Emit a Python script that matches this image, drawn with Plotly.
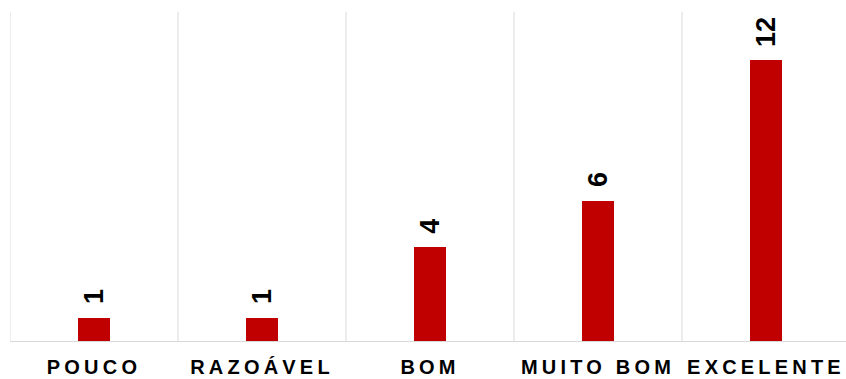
import plotly.graph_objects as go

categories = ["POUCO", "RAZOÁVEL", "BOM", "MUITO BOM", "EXCELENTE"]
values = [1, 1, 4, 6, 12]

BAR_COLOR = "#C00000"
GRID_COLOR = "#D9D9D9"
FONT = "Liberation Sans, Arial, sans-serif"

fig = go.Figure()
fig.add_trace(go.Bar(
    x=categories, y=values,
    width=0.185,
    marker=dict(color=BAR_COLOR, line=dict(width=0)),
    hoverinfo="skip",
))

# data labels (rotated)
for c, v in zip(categories, values):
    fig.add_annotation(
        x=c, y=v, xref="x", yref="y",
        text=f"<b>{v}</b>", textangle=-90,
        showarrow=False, yanchor="bottom", xanchor="center",
        yshift=11,
        font=dict(family=FONT, size=27, color="#000000"),
    )

# vertical category separators
for i in range(len(categories)):
    fig.add_shape(
        type="line", xref="x", yref="paper",
        x0=i - 0.5, x1=i - 0.5, y0=0, y1=1,
        line=dict(color=GRID_COLOR, width=1), layer="below",
    )

W, H = 846, 379
ML, MR, MT, MB = 10, 0, 12, 38
cat_px = 168
plot_w = W - ML - MR

fig.update_layout(
    width=W, height=H,
    margin=dict(l=ML, r=MR, t=MT, b=MB, pad=0),
    paper_bgcolor="white", plot_bgcolor="white",
    showlegend=False,
    bargap=0,
    xaxis=dict(
        type="category",
        range=[-0.5, -0.5 + plot_w / cat_px],
        showgrid=False, zeroline=False,
        showline=True, linecolor=GRID_COLOR, linewidth=1,
        ticks="", automargin=False,
        tickfont=dict(family=FONT, size=20, color="#000000", weight="bold"),
        ticklabelstandoff=8,
    ),
    yaxis=dict(
        range=[0, 14.05],
        showgrid=False, zeroline=False, showline=False,
        showticklabels=False, ticks="", automargin=False,
    ),
)

post = """
document.querySelectorAll('.xtick text').forEach(function(t){t.style.letterSpacing='4.2px';});
"""
fig.write_html("out.html", post_script=post)
